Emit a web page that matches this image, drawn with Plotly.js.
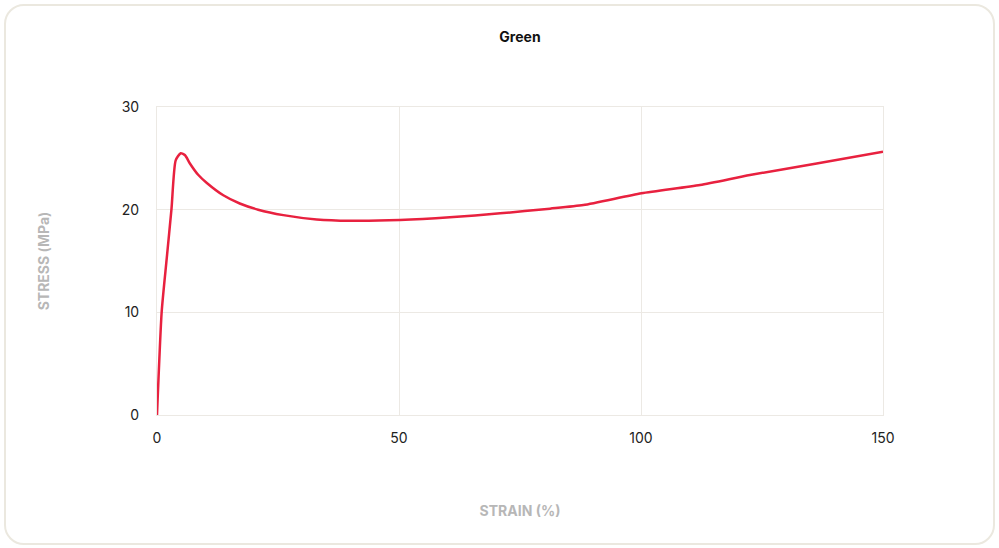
<!DOCTYPE html>
<html>
<head>
<meta charset="utf-8">
<script src="https://cdn.plot.ly/plotly-3.0.1.min.js"></script>
<style>
html,body{margin:0;padding:0;background:#fff;}
#wrap{position:relative;width:999px;height:548px;}
#chart{width:999px;height:548px;}
#frame{position:absolute;left:4px;top:4px;width:987px;height:537px;border:2px solid #ebe8df;border-radius:20px;pointer-events:none;}
</style>
</head>
<body>
<div id="wrap"><div id="chart"></div><div id="frame"></div></div>
<script>
const strain = [0, 0.97, 2.0, 3.0, 3.86, 4.9, 5.8, 6.8, 8.5, 10.3, 13.7, 17.1, 20.9, 26.1, 33.0, 39.9, 50.2, 60.5, 70.9, 81.2, 88.1, 100.1, 112.2, 122.5, 136.3, 150];
const stress = [0, 10.06, 15.2, 20.1, 24.8, 25.5, 25.3, 24.5, 23.4, 22.6, 21.4, 20.6, 20.0, 19.47, 19.05, 18.92, 18.99, 19.25, 19.64, 20.1, 20.45, 21.59, 22.4, 23.37, 24.5, 25.64];
const xTicks = [0, 50, 100, 150];
const yTicks = [0, 10, 20, 30];

const trace = {
  x: strain, y: stress, type: 'scatter', mode: 'lines',
  line: {color: '#e8213f', width: 2.5, shape: 'spline', smoothing: 0.6},
  hoverinfo: 'skip'
};
const layout = {
  width: 999, height: 548,
  margin: {l: 157, r: 116, t: 107, b: 133},
  paper_bgcolor: '#fff', plot_bgcolor: '#fff',
  font: {family: 'Inter, "Noto Sans", sans-serif', size: 14, color: '#222'},
  title: {text: '<b>Green</b>', xref: 'paper', x: 0.5, xanchor: 'center', y: 0.932, yanchor: 'middle',
          font: {size: 14, color: '#111', family: 'Inter, sans-serif'}},
  showlegend: false,
  xaxis: {
    range: [0, 150], tickvals: xTicks, ticktext: xTicks.map(String),
    showgrid: true, gridcolor: '#ece9e4', gridwidth: 1,
    zeroline: false, showline: true, linecolor: '#ece9e4', linewidth: 1, mirror: true,
    ticks: '', ticklabelstandoff: 10,
    tickfont: {size: 14, color: '#222'},
    title: {text: '<b>STRAIN (%)</b>', standoff: 61, font: {size: 14, color: '#b7b7b7'}}
  },
  yaxis: {
    range: [0, 30], tickvals: yTicks, ticktext: yTicks.map(String),
    showgrid: true, gridcolor: '#ece9e4', gridwidth: 1,
    zeroline: false, showline: true, linecolor: '#ece9e4', linewidth: 1, mirror: true,
    ticks: '', ticklabelstandoff: 14,
    tickfont: {size: 14, color: '#222'},
    title: {text: '<b>STRESS (MPa)</b>', standoff: 68, font: {size: 14, color: '#b7b7b7'}}
  }
};
Plotly.newPlot('chart', [trace], layout, {displayModeBar: false, staticPlot: true});
</script>
</body>
</html>
